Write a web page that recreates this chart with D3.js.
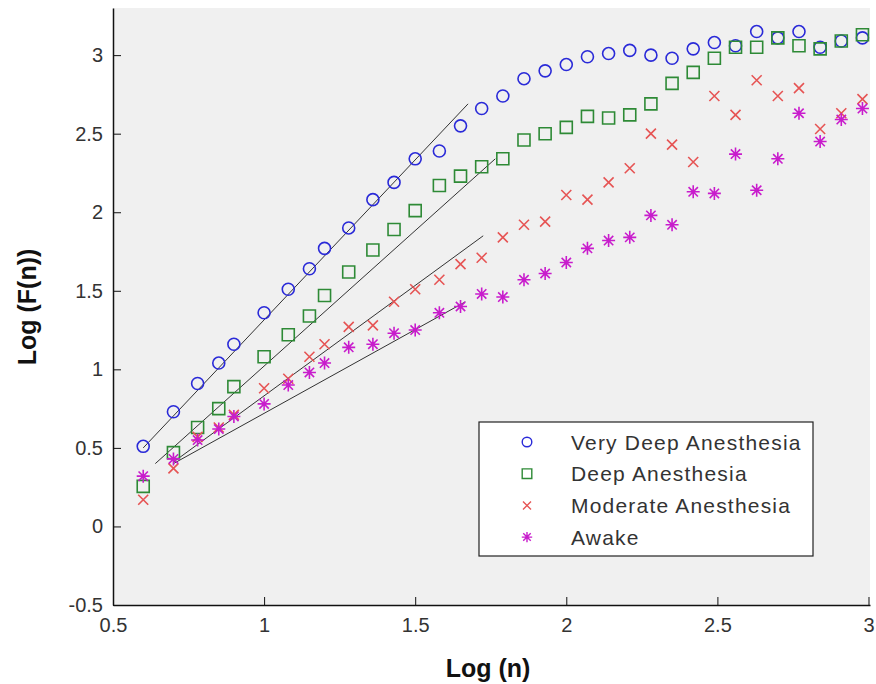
<!DOCTYPE html>
<html>
<head>
<meta charset="utf-8">
<script src="https://cdn.jsdelivr.net/npm/d3@7"></script>
<style>
  body { margin: 0; background: #fff; }
  text { font-family: Arial, "Liberation Sans", Helvetica, sans-serif; }
</style>
</head>
<body>
<svg id="chart" width="876" height="684"></svg>
<script>
// data
const logN = [0.60, 0.70, 0.78, 0.85, 0.90, 1.00, 1.08, 1.15, 1.20, 1.28, 1.36, 1.43,
              1.50, 1.58, 1.65, 1.72, 1.79, 1.86, 1.93, 2.00, 2.07, 2.14, 2.21, 2.28,
              2.35, 2.42, 2.49, 2.56, 2.63, 2.70, 2.77, 2.84, 2.91, 2.98];

const veryDeep = [0.51, 0.73, 0.91, 1.04, 1.16, 1.36, 1.51, 1.64, 1.77, 1.90, 2.08, 2.19,
                  2.34, 2.39, 2.55, 2.66, 2.74, 2.85, 2.90, 2.94, 2.99, 3.01, 3.03, 3.00,
                  2.98, 3.04, 3.08, 3.06, 3.15, 3.11, 3.15, 3.05, 3.09, 3.11];

const deep = [0.255, 0.47, 0.63, 0.75, 0.89, 1.08, 1.22, 1.34, 1.47, 1.62, 1.76, 1.89,
              2.01, 2.17, 2.23, 2.29, 2.34, 2.46, 2.50, 2.54, 2.61, 2.60, 2.62, 2.69,
              2.82, 2.89, 2.98, 3.05, 3.05, 3.11, 3.06, 3.04, 3.09, 3.13];

const moderate = [0.17, 0.37, 0.57, 0.63, 0.71, 0.88, 0.94, 1.08, 1.16, 1.27, 1.28, 1.43,
                  1.51, 1.57, 1.67, 1.71, 1.84, 1.92, 1.94, 2.11, 2.08, 2.19, 2.28, 2.50,
                  2.43, 2.32, 2.74, 2.62, 2.84, 2.74, 2.79, 2.53, 2.63, 2.72];

const awake = [0.32, 0.43, 0.55, 0.62, 0.70, 0.78, 0.90, 0.98, 1.04, 1.14, 1.16, 1.23,
               1.25, 1.36, 1.40, 1.48, 1.46, 1.57, 1.61, 1.68, 1.77, 1.82, 1.84, 1.98,
               1.92, 2.13, 2.12, 2.37, 2.14, 2.34, 2.63, 2.45, 2.59, 2.66];

// fitted lines: [x0, y0, x1, y1]
const fitLines = [
  [0.60, 0.50, 1.675, 2.69],
  [0.64, 0.40, 1.765, 2.34],
  [0.70, 0.41, 1.725, 1.85],
  [0.70, 0.40, 1.666, 1.43]
];

const seriesNames = ["Very Deep Anesthesia", "Deep Anesthesia", "Moderate Anesthesia", "Awake"];
const xTicks = [0.5, 1, 1.5, 2, 2.5, 3];
const yTicks = [-0.5, 0, 0.5, 1, 1.5, 2, 2.5, 3];

const width = 876, height = 684;
const margin = {top: 8, right: 6, bottom: 79, left: 113};

const svg = d3.select("#chart");

const x = d3.scaleLinear().domain([0.5, 3.005]).range([margin.left, width - margin.right]);
const y = d3.scaleLinear().domain([-0.5, 3.3]).range([height - margin.bottom, margin.top]);

// plot background
svg.append("rect")
   .attr("x", margin.left).attr("y", margin.top)
   .attr("width", width - margin.left - margin.right)
   .attr("height", height - margin.top - margin.bottom)
   .attr("fill", "#f0f0f0");

// marker shapes
const markers = {
  circle: s => { const r = s / 2; return `M${-r},0A${r},${r} 0 1,0 ${r},0A${r},${r} 0 1,0 ${-r},0Z`; },
  square: s => { const h = s / 2; return `M${-h},${-h}H${h}V${h}H${-h}Z`; },
  cross: s => { const h = s / 2; return `M${-h},${-h}L${h},${h}M${-h},${h}L${h},${-h}`; },
  star: s => { const h = s / 2, d = h * 0.72;
    return `M${-h},0H${h}M0,${-h}V${h}M${-d},${-d}L${d},${d}M${-d},${d}L${d},${-d}`; }
};

const series = [
  {name: seriesNames[0], values: veryDeep, shape: "circle", size: 12, color: "#2a2ad8"},
  {name: seriesNames[1], values: deep, shape: "square", size: 12, color: "#2e8a36"},
  {name: seriesNames[2], values: moderate, shape: "cross", size: 10, color: "#e65454"},
  {name: seriesNames[3], values: awake, shape: "star", size: 13, color: "#c81ccc"}
];

// fit lines
svg.append("g")
   .selectAll("line")
   .data(fitLines)
   .join("line")
   .attr("x1", d => x(d[0])).attr("y1", d => y(d[1]))
   .attr("x2", d => x(d[2])).attr("y2", d => y(d[3]))
   .attr("stroke", "#333")
   .attr("stroke-width", 1);

// POINTS
series.forEach(s => {
  svg.append("g")
     .selectAll("path")
     .data(s.values.map((v, i) => [logN[i], v]))
     .join("path")
     .attr("transform", d => `translate(${x(d[0])},${y(d[1])})`)
     .attr("d", markers[s.shape](s.size))
     .attr("fill", "none")
     .attr("stroke", s.color)
     .attr("stroke-width", 1.6);
});

// AXES
const fmt = d => String(d);
const xAxis = svg.append("g")
   .attr("transform", `translate(0,${height - margin.bottom})`)
   .call(d3.axisBottom(x).tickValues(xTicks).tickFormat(fmt).tickSizeInner(-8).tickSizeOuter(0).tickPadding(13));

const yAxis = svg.append("g")
   .attr("transform", `translate(${margin.left},0)`)
   .call(d3.axisLeft(y).tickValues(yTicks).tickFormat(fmt).tickSizeInner(-8).tickSizeOuter(0).tickPadding(10));

[xAxis, yAxis].forEach(a => {
  a.select(".domain").attr("stroke", "#111").attr("stroke-width", 1.5);
  a.selectAll(".tick line").attr("stroke", "#111");
  a.selectAll(".tick text").attr("font-size", 20).attr("fill", "#333")
   .style("font-family", "Arial, 'Liberation Sans', sans-serif");
});
yAxis.selectAll(".tick text").attr("x", -10);

// axis titles
svg.append("text")
   .attr("x", 488).attr("y", 677)
   .attr("text-anchor", "middle")
   .attr("font-size", 25).attr("font-weight", "bold").attr("fill", "#111")
   .text("Log (n)");

svg.append("text")
   .attr("transform", "translate(36,307) rotate(-90)")
   .attr("text-anchor", "middle")
   .attr("font-size", 25).attr("font-weight", "bold").attr("fill", "#111")
   .text("Log (F(n))");

// LEGEND
const legend = svg.append("g").attr("transform", "translate(479,422)");
legend.append("rect")
      .attr("width", 334).attr("height", 134)
      .attr("fill", "#fff").attr("stroke", "#222").attr("stroke-width", 1.2);

const entry = legend.selectAll("g.entry")
   .data(series)
   .join("g")
   .attr("class", "entry")
   .attr("transform", (d, i) => `translate(0,${20 + i * 31.7})`);

entry.append("path")
     .attr("transform", "translate(48,0)")
     .attr("d", d => markers[d.shape](d.size * 0.8))
     .attr("fill", "none")
     .attr("stroke", d => d.color)
     .attr("stroke-width", 1.4);

entry.append("text")
     .attr("x", 92).attr("y", 7.5)
     .attr("font-size", 21).attr("letter-spacing", 1.2).attr("fill", "#333")
     .text(d => d.name);
</script>
</body>
</html>
